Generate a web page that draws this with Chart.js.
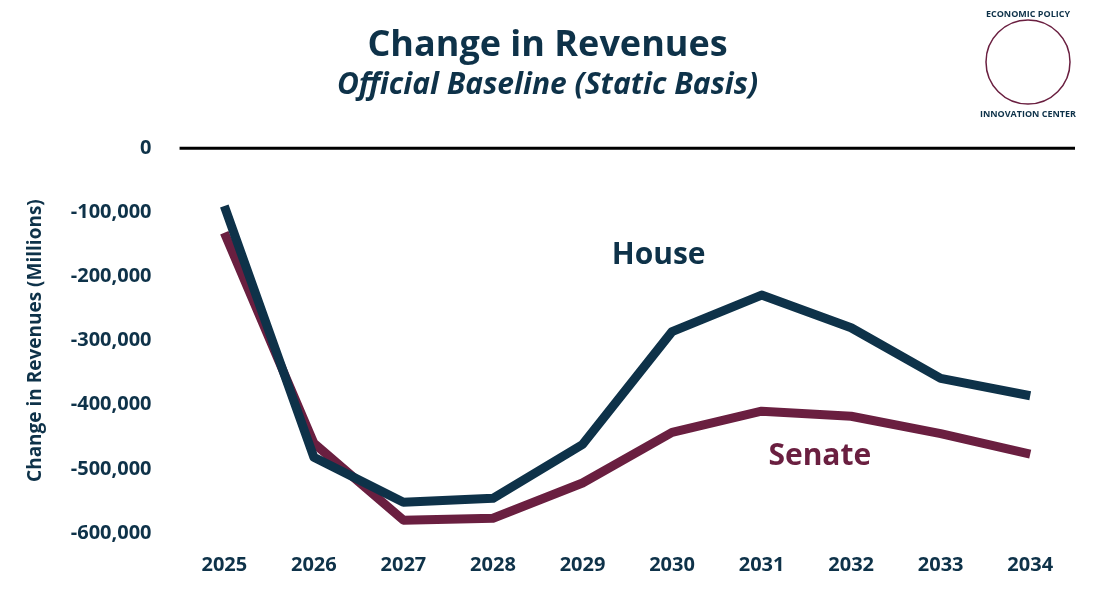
<!DOCTYPE html>
<html><head><meta charset="utf-8">
<script src="https://cdn.jsdelivr.net/npm/chart.js@4/dist/chart.umd.min.js"></script>
<style>
html,body{margin:0;padding:0;background:#fff}
#wrap{position:relative;width:1100px;height:597px}
</style></head>
<body><div id="wrap"><canvas id="c" width="1100" height="597"></canvas></div>
<script>
const years = ['2025','2026','2027','2028','2029','2030','2031','2032','2033','2034'];
const house = [-90000,-482000,-552000,-546000,-462000,-286000,-229000,-280000,-359000,-386000];
const senate = [-132000,-460000,-580000,-577000,-522000,-443000,-410000,-418000,-445000,-477000];
const navy = '#0e3249', maroon = '#6a1f40';

// series labels placed in data coordinates
const labelPlugin = {
  id: 'labels',
  afterDatasetsDraw(chart) {
    const {ctx, scales: {x, y}} = chart;
    const step = x.getPixelForValue(1) - x.getPixelForValue(0);
    ctx.save();
    ctx.font = 'bold 30px "Open Sans", sans-serif';
    ctx.textAlign = 'center'; ctx.textBaseline = 'middle';
    ctx.fillStyle = navy;
    ctx.fillText('House', x.getPixelForValue(5) - 0.15 * step, y.getPixelForValue(-168000));
    ctx.fillStyle = maroon;
    ctx.fillText('Senate', x.getPixelForValue(6) + 0.65 * step, y.getPixelForValue(-480000));
    // zero line
    ctx.strokeStyle = '#000'; ctx.lineWidth = 3;
    ctx.beginPath();
    ctx.moveTo(x.left, y.getPixelForValue(0)); ctx.lineTo(x.right, y.getPixelForValue(0));
    ctx.stroke();
    // logo
    ctx.strokeStyle = maroon; ctx.lineWidth = 1.5;
    ctx.beginPath(); ctx.arc(1028, 62, 42, 0, Math.PI * 2); ctx.stroke();
    ctx.fillStyle = navy; ctx.font = 'bold 9px "Open Sans", sans-serif';
    ctx.fillText('ECONOMIC POLICY', 1028, 14);
    ctx.fillText('INNOVATION CENTER', 1028, 114);
    ctx.restore();
  }
};

new Chart(document.getElementById('c'), {
  type: 'line',
  data: {
    labels: years,
    datasets: [
      {label: 'House', data: house, borderColor: navy, borderWidth: 9, pointRadius: 0, tension: 0, borderJoinStyle: 'round'},
      {label: 'Senate', data: senate, borderColor: maroon, borderWidth: 9, pointRadius: 0, tension: 0, borderJoinStyle: 'round'}
    ]
  },
  options: {
    responsive: false, animation: false,
    layout: {padding: {left: 20, right: 25, top: 10, bottom: 8}},
    plugins: {
      legend: {display: false}, tooltip: {enabled: false},
      title: {display: true, text: 'Change in Revenues', color: navy,
        font: {family: '"Open Sans", sans-serif', size: 36, weight: 'bold'}, padding: {top: 14, bottom: 0}},
      subtitle: {display: true, text: 'Official Baseline (Static Basis)', color: navy,
        font: {family: '"Open Sans", sans-serif', size: 30, weight: 'bold', style: 'italic'}, padding: {top: 0, bottom: 45}}
    },
    scales: {
      x: {offset: true, grid: {display: false}, border: {display: false},
        ticks: {color: navy, font: {family: '"Open Sans", sans-serif', size: 20, weight: 'bold'}, padding: 12}},
      y: {min: -600000, max: 0, grid: {display: false}, border: {display: false},
        ticks: {stepSize: 100000, color: navy, padding: 20,
          font: {family: '"Open Sans", sans-serif', size: 20, weight: 'bold'},
          callback: v => v.toLocaleString('en-US')},
        title: {display: true, text: 'Change in Revenues (Millions)', color: navy,
          font: {family: '"Open Sans", sans-serif', size: 19, weight: 'bold'}}}
    }
  },
  plugins: [labelPlugin]
});
</script></body></html>
